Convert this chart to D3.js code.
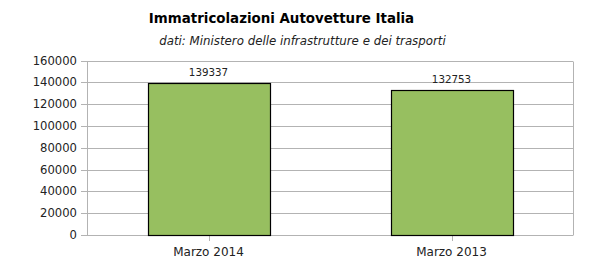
<!DOCTYPE html>
<html><head><meta charset="utf-8">
<script src="https://cdn.jsdelivr.net/npm/d3@7"></script>
<style>body{margin:0;background:#fff}svg{display:block}</style>
</head><body>
<script>
const categories = ["Marzo 2014", "Marzo 2013"];
const values = [139337, 132753];
const yTicks = [0, 20000, 40000, 60000, 80000, 100000, 120000, 140000, 160000];
const title = "Immatricolazioni Autovetture Italia";
const subtitle = "dati: Ministero delle infrastrutture e dei trasporti";

const W = 600, H = 265;
const m = {left: 87, right: 27, top: 60.5, bottom: 30};
const svg = d3.select("body").append("svg").attr("width", W).attr("height", H);
const font = "DejaVu Sans, sans-serif";

const x = d3.scaleBand().domain(categories).range([m.left, W - m.right]).paddingInner(0).paddingOuter(0);
const y = d3.scaleLinear().domain([0, 160000]).range([H - m.bottom, m.top]);

svg.append("text").attr("x", 281.5).attr("y", 23).attr("text-anchor", "middle")
  .attr("font-family", font).attr("font-weight", "bold").attr("font-size", 13.4).text(title);
svg.append("text").attr("x", 302.5).attr("y", 44.5).attr("text-anchor", "middle")
  .attr("font-family", font).attr("font-style", "italic").attr("font-size", 11.8).attr("fill", "#222").text(subtitle);

// gridlines
svg.append("g").selectAll("line").data(yTicks).join("line")
  .attr("x1", m.left - 6).attr("x2", W - m.right)
  .attr("y1", d => Math.round(y(d)) + 0.5).attr("y2", d => Math.round(y(d)) + 0.5)
  .attr("stroke", "#b3b3b3").attr("stroke-width", 1);
// frame verticals
svg.append("line").attr("x1", m.left + 0.5).attr("x2", m.left + 0.5)
  .attr("y1", Math.round(y(160000)) + 0.5).attr("y2", Math.round(y(0)) + 0.5).attr("stroke", "#b3b3b3");
svg.append("line").attr("x1", W - m.right + 0.5).attr("x2", W - m.right + 0.5)
  .attr("y1", Math.round(y(160000)) + 0.5).attr("y2", Math.round(y(0)) + 0.5).attr("stroke", "#b3b3b3");

// y labels
svg.append("g").selectAll("text").data(yTicks).join("text")
  .attr("x", 77).attr("y", d => y(d) + 4).attr("text-anchor", "end")
  .attr("font-family", font).attr("font-size", 11.6).attr("fill", "#222").text(d => d);

// x ticks
svg.append("g").selectAll("line").data(categories).join("line")
  .attr("x1", d => Math.round(x(d) + x.bandwidth() / 2) + 0.5).attr("x2", d => Math.round(x(d) + x.bandwidth() / 2) + 0.5)
  .attr("y1", Math.round(y(0))).attr("y2", Math.round(y(0)) + 6).attr("stroke", "#b3b3b3");

// bars
const bw = x.bandwidth() / 2;
svg.append("g").selectAll("rect").data(values).join("rect")
  .attr("x", (d, i) => Math.round(x(categories[i]) + x.bandwidth() / 4) + 0.5)
  .attr("y", d => Math.round(y(d)) + 0.5)
  .attr("width", Math.round(bw))
  .attr("height", d => Math.round(y(0)) - Math.round(y(d)))
  .attr("fill", "#97bf60").attr("stroke", "#000").attr("stroke-width", 1.2);

// value labels
svg.append("g").selectAll("text").data(values).join("text")
  .attr("x", (d, i) => x(categories[i]) + x.bandwidth() / 2).attr("y", d => y(d) - 7)
  .attr("text-anchor", "middle").attr("font-family", font).attr("font-size", 10.3).attr("fill", "#222").text(d => d);

// category labels
svg.append("g").selectAll("text").data(categories).join("text")
  .attr("x", d => x(d) + x.bandwidth() / 2).attr("y", 256)
  .attr("text-anchor", "middle").attr("font-family", font).attr("font-size", 12).attr("fill", "#222").text(d => d);
</script>
</body></html>
